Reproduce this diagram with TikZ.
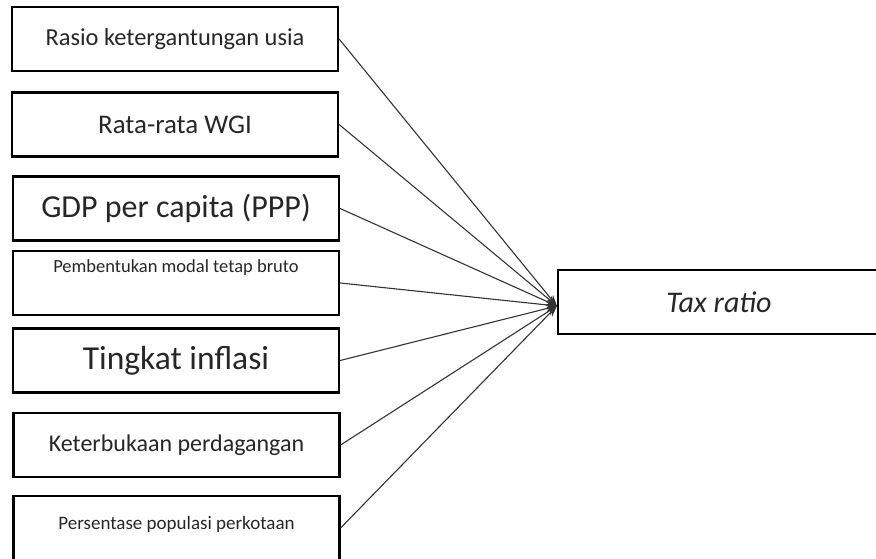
\documentclass[tikz,border=0pt]{standalone}
\usepackage{fontspec}
\setmainfont{Carlito}
\usetikzlibrary{shapes,positioning,arrows.meta}

\begin{document}
\begin{tikzpicture}[
    x=1pt, y=1pt,
    every node/.style={text=black!85},
    factor/.style={rectangle, draw=black, line width=2.2pt, minimum width=326pt, minimum height=64pt, inner sep=0pt},
    link/.style={draw=black!80, line width=1.1pt, -{Stealth[length=11pt,width=8pt]}}
]
\clip (0,0) rectangle (876,559);
\useasboundingbox (0,0) rectangle (876,559);

% Draw the factor boxes
\node[factor, font=\fontsize{24.4}{29}\selectfont] (rasio) at (175,520) {Rasio ketergantungan usia};
\node[factor, font=\fontsize{26.9}{32}\selectfont] (wgi) at (175,434.5) {Rata-rata WGI};
\node[factor, font=\fontsize{32}{38}\selectfont] (gdp) at (176,350.5) {GDP per capita (PPP)};
\node[factor, font=\fontsize{18.5}{22}\selectfont, text height=13pt, text depth=34pt] (modal) at (176,276) {Pembentukan modal tetap bruto};
\node[factor, font=\fontsize{33.5}{40}\selectfont] (inflasi) at (176,198.5) {Tingkat inflasi};
\node[factor, font=\fontsize{24}{29}\selectfont] (dagang) at (176.5,114) {Keterbukaan perdagangan};
\node[factor, font=\fontsize{19}{23}\selectfont, text height=13pt, text depth=10pt] (kota) at (176.5,31) {Persentase populasi perkotaan};

% Dependent variable
\node[factor, minimum width=322pt, font=\fontsize{30}{36}\selectfont\itshape] (tax) at (719,257) {Tax ratio};

% Arrows into tax ratio
\foreach \src in {rasio,wgi,gdp,modal,inflasi,dagang,kota}
    \draw[link] (\src.east) -- ([yshift=-4pt]tax.west);

\end{tikzpicture}
\end{document}
